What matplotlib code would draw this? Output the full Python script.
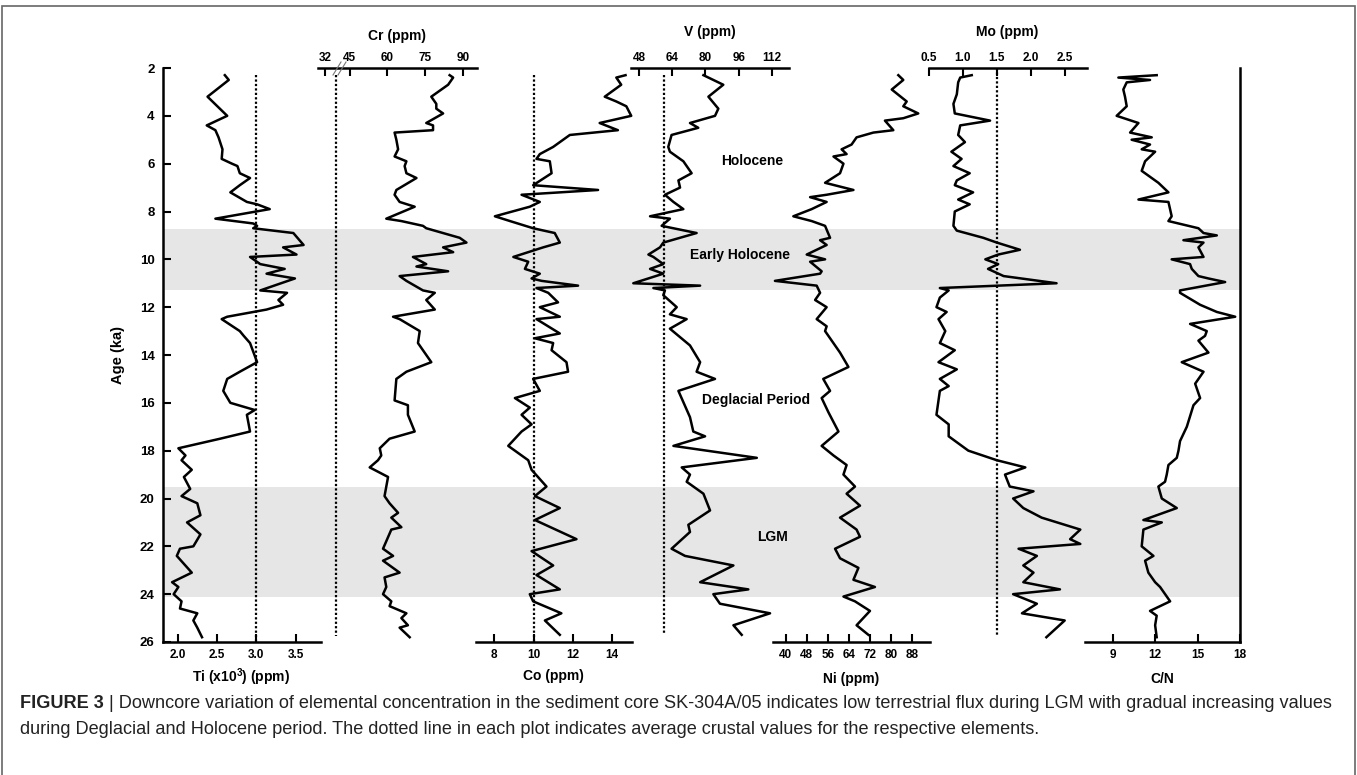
import numpy as np
import matplotlib
matplotlib.use('Agg')
import matplotlib.pyplot as plt
from matplotlib.lines import Line2D
from matplotlib.patches import Rectangle

plt.rcParams['font.family'] = ['Liberation Sans', 'DejaVu Sans']
plt.rcParams['mathtext.fontset'] = 'custom'
plt.rcParams['mathtext.rm'] = 'Liberation Sans'
plt.rcParams['mathtext.bf'] = 'Liberation Sans:bold'

# ---- data (age in ka, concentration) ----
ti_age = [2.3, 2.5, 3.2, 4.0, 4.4, 4.6, 4.9, 5.4, 5.8, 6.0, 6.1, 6.4, 6.6, 6.9, 7.2, 7.6, 7.7, 7.9, 8.3, 8.5,
          8.6, 8.7, 8.9, 9.4, 9.5, 9.8, 9.9, 10.2, 10.4, 10.6, 10.8, 11.3, 11.4, 11.7, 11.9, 12.1, 12.4, 12.5, 13.0, 13.2,
          13.5, 14.3, 14.7, 15.0, 15.5, 16.0, 16.3, 16.5, 17.2, 17.5, 17.9, 18.2, 18.4, 18.8, 19.1, 19.6, 19.9, 20.2, 20.7, 21.0,
          21.5, 22.0, 22.1, 22.4, 23.1, 23.5, 23.7, 24.0, 24.3, 24.6, 24.8, 25.1, 25.4, 25.8]
ti_val = [2.60, 2.65, 2.38, 2.63, 2.37, 2.48, 2.52, 2.57, 2.56, 2.69, 2.76, 2.79, 2.92, 2.79, 2.67, 2.88, 3.01, 3.17, 2.48, 2.96,
          3.01, 2.96, 3.47, 3.60, 3.34, 3.51, 2.92, 3.05, 3.36, 3.13, 3.49, 3.05, 3.39, 3.28, 3.34, 3.13, 2.63, 2.56, 2.79, 2.84,
          2.92, 3.01, 2.79, 2.63, 2.58, 2.67, 2.98, 2.88, 2.92, 2.54, 2.01, 2.10, 2.05, 2.18, 2.08, 2.16, 2.05, 2.25, 2.29, 2.12,
          2.29, 2.20, 2.03, 1.99, 2.18, 1.93, 2.01, 1.95, 2.05, 2.03, 2.25, 2.20, 2.25, 2.31]

cr_age = [2.3, 2.4, 2.7, 3.2, 3.5, 3.7, 3.9, 4.3, 4.4, 4.6, 4.7, 5.0, 5.4, 5.7, 5.9, 6.1, 6.4, 6.6, 7.1, 7.3,
          7.6, 7.8, 8.3, 8.4, 8.6, 8.7, 9.1, 9.3, 9.5, 9.7, 9.9, 10.2, 10.3, 10.5, 10.7, 10.9, 11.3, 11.4, 11.7, 12.1,
          12.4, 12.5, 13.0, 13.5, 14.3, 14.7, 15.0, 15.9, 16.1, 16.5, 17.2, 17.5, 17.9, 18.2, 18.4, 18.7, 19.1, 19.5, 19.9, 20.2,
          20.6, 20.8, 21.2, 21.3, 22.1, 22.4, 22.6, 23.1, 23.3, 23.7, 24.0, 24.3, 24.5, 24.8, 25.0, 25.3, 25.4, 25.8]
cr_val = [84.8, 86.2, 84.2, 77.5, 79.5, 79.5, 82.2, 75.5, 78.2, 78.2, 62.9, 63.6, 64.3, 62.9, 67.6, 66.9, 67.6, 71.6, 63.6, 62.9,
          64.9, 70.9, 59.6, 65.6, 74.2, 75.5, 88.8, 91.5, 82.2, 86.2, 70.2, 75.5, 71.6, 84.2, 64.9, 67.6, 74.2, 78.9, 75.5, 78.9,
          62.3, 64.9, 72.9, 72.2, 77.5, 67.6, 63.6, 62.9, 68.2, 68.2, 70.9, 60.9, 57.0, 57.6, 56.3, 53.0, 60.3, 59.6, 58.9, 60.9,
          64.3, 61.6, 65.6, 61.6, 58.3, 62.3, 58.3, 64.9, 58.9, 59.6, 58.3, 61.6, 60.9, 67.6, 65.6, 68.2, 64.9, 68.9]

co_age = [2.3, 2.4, 2.7, 3.2, 3.4, 3.6, 4.0, 4.3, 4.6, 4.8, 5.3, 5.6, 5.8, 5.9, 6.4, 6.9, 7.1, 7.3, 7.6, 7.8,
          8.2, 8.4, 8.7, 8.9, 9.3, 9.5, 9.9, 10.1, 10.4, 10.6, 10.8, 10.9, 11.1, 11.2, 11.4, 11.8, 12.0, 12.4, 12.5, 13.1,
          13.3, 13.5, 13.8, 14.3, 14.7, 15.0, 15.5, 15.8, 16.2, 16.5, 16.9, 17.2, 17.8, 18.4, 18.8, 19.5, 19.9, 20.4, 20.9, 21.7,
          22.2, 22.8, 23.2, 23.8, 24.0, 24.3, 24.8, 25.1, 25.7]
co_val = [14.69, 14.22, 14.47, 13.63, 14.22, 14.73, 14.98, 13.37, 14.3, 11.85, 11.0, 10.32, 10.15, 10.83, 10.92, 9.98, 13.29, 9.39, 10.32, 9.81,
          8.03, 8.80, 9.98, 11.08, 11.34, 10.49, 8.97, 9.73, 9.56, 10.32, 9.90, 10.41, 12.27, 10.15, 10.75, 11.25, 10.32, 11.34, 10.15, 11.34,
          10.07, 11.0, 10.92, 11.68, 11.76, 9.98, 10.32, 9.05, 9.81, 9.39, 9.90, 9.39, 8.71, 9.73, 9.90, 10.66, 10.07, 11.34, 10.07, 12.19,
          9.90, 11.0, 10.15, 11.34, 9.81, 9.98, 11.42, 10.58, 11.34]

v_age = [2.3, 2.7, 3.2, 3.7, 4.0, 4.3, 4.5, 4.8, 5.3, 5.5, 5.9, 6.4, 6.7, 7.0, 7.3, 7.6, 7.9, 8.2, 8.3, 8.6,
         8.9, 9.3, 9.5, 9.8, 9.9, 10.2, 10.4, 10.6, 11.0, 11.1, 11.2, 11.3, 11.5, 12.0, 12.3, 12.5, 12.9, 13.6, 14.3, 14.7,
         15.0, 15.5, 16.6, 17.2, 17.4, 17.8, 18.3, 18.7, 19.0, 19.3, 19.8, 20.5, 21.1, 21.4, 22.1, 22.4, 22.8, 23.5, 23.8, 24.0,
         24.4, 24.8, 25.3, 25.7]
v_val = [79.0, 88.6, 81.4, 86.2, 84.6, 72.5, 76.5, 63.6, 62.0, 62.8, 69.3, 73.3, 66.9, 67.7, 60.4, 64.5, 69.3, 53.2, 62.8, 58.8,
         75.7, 59.6, 58.0, 52.4, 54.8, 59.6, 53.2, 59.6, 45.1, 77.4, 54.8, 60.4, 59.6, 66.1, 62.8, 70.9, 62.8, 72.5, 77.4, 75.7,
         84.6, 66.9, 72.5, 74.1, 79.8, 64.5, 104.8, 68.5, 72.5, 70.9, 79.0, 82.2, 71.7, 72.5, 63.6, 70.1, 93.5, 77.4, 100.7, 83.8,
         87.0, 111.2, 93.5, 97.5]

ni_age = [2.3, 2.5, 2.9, 3.4, 3.6, 3.9, 4.1, 4.2, 4.6, 4.7, 4.9, 5.2, 5.4, 5.6, 5.7, 6.0, 6.4, 6.8, 7.1, 7.3,
          7.4, 7.6, 7.9, 8.2, 8.4, 8.6, 9.1, 9.2, 9.4, 9.8, 10.0, 10.1, 10.5, 10.6, 10.9, 11.1, 11.4, 11.7, 12.0, 12.5,
          12.8, 13.0, 13.9, 14.5, 15.0, 15.5, 15.8, 16.4, 17.2, 17.8, 18.2, 18.6, 19.0, 19.5, 19.8, 20.3, 20.8, 21.3, 21.6, 22.1,
          22.5, 22.9, 23.4, 23.7, 24.1, 24.3, 24.7, 25.3, 25.7]
ni_val = [82.9, 84.8, 80.4, 86.1, 84.8, 90.5, 84.8, 77.8, 81.0, 73.4, 67.0, 65.1, 61.3, 63.2, 58.2, 62.0, 60.7, 55.0, 65.8, 55.6,
          49.3, 55.6, 49.9, 42.9, 49.9, 55.0, 56.9, 53.1, 55.6, 48.0, 55.0, 49.3, 53.7, 53.1, 35.9, 51.8, 53.1, 51.2, 55.6, 51.8,
          55.6, 55.0, 60.7, 63.9, 54.3, 56.9, 53.7, 56.3, 60.1, 53.7, 58.2, 63.2, 62.0, 66.4, 63.2, 68.3, 60.7, 67.0, 68.3, 58.8,
          60.7, 67.7, 65.8, 74.0, 62.0, 66.4, 72.1, 67.0, 71.5]

mo_age = [2.3, 2.4, 2.6, 3.1, 3.5, 3.9, 4.2, 4.4, 4.8, 5.1, 5.5, 5.8, 6.1, 6.4, 6.7, 6.9, 7.2, 7.5, 7.7, 8.0,
          8.6, 8.8, 9.1, 9.3, 9.6, 9.8, 10.0, 10.2, 10.4, 10.7, 11.0, 11.2, 11.3, 11.6, 12.0, 12.2, 12.5, 13.0, 13.5, 13.8,
          14.3, 14.6, 15.0, 15.3, 15.5, 16.5, 16.9, 17.4, 18.0, 18.4, 18.7, 19.0, 19.5, 19.7, 20.0, 20.4, 20.8, 21.3, 21.7, 21.9,
          22.1, 22.4, 22.8, 23.1, 23.5, 23.8, 24.0, 24.4, 24.8, 25.1, 25.8]
mo_val = [1.13, 0.96, 0.93, 0.91, 0.86, 0.88, 1.40, 0.96, 0.93, 1.03, 0.83, 0.98, 0.86, 1.10, 0.91, 0.88, 1.15, 0.93, 1.10, 0.88,
          0.86, 0.91, 1.30, 1.50, 1.84, 1.52, 1.33, 1.52, 1.37, 1.60, 2.38, 0.66, 0.79, 0.66, 0.61, 0.76, 0.64, 0.74, 0.66, 0.88,
          0.64, 0.91, 0.66, 0.79, 0.66, 0.61, 0.79, 0.79, 1.08, 1.50, 1.92, 1.62, 1.69, 2.04, 1.74, 1.89, 2.16, 2.73, 2.58, 2.73,
          1.82, 2.09, 1.89, 2.04, 1.89, 2.43, 1.74, 2.09, 1.87, 2.50, 2.23]

cn_age = [2.3, 2.4, 2.5, 2.6, 2.9, 3.2, 3.6, 4.0, 4.3, 4.7, 4.9, 5.0, 5.2, 5.4, 5.5, 5.9, 6.3, 6.8, 7.2, 7.5,
          7.6, 8.2, 8.4, 8.7, 8.9, 9.0, 9.2, 9.3, 9.5, 9.9, 10.0, 10.2, 10.4, 10.7, 10.8, 10.95, 11.3, 11.4, 11.9, 12.2,
          12.4, 12.7, 13.0, 13.2, 13.4, 13.9, 14.3, 14.7, 15.2, 15.8, 16.1, 17.0, 17.6, 18.0, 18.3, 18.6, 19.0, 19.3, 19.5, 20.0,
          20.4, 20.9, 21.0, 21.3, 22.0, 22.4, 22.6, 23.1, 23.5, 23.7, 24.3, 24.7, 24.9, 25.3, 25.8]
cn_val = [12.11, 9.40, 11.64, 9.99, 9.75, 9.87, 9.99, 9.28, 10.82, 10.23, 11.76, 10.34, 11.64, 11.05, 12.0, 11.29, 11.05, 12.23, 12.94, 10.82,
          12.94, 13.17, 12.94, 15.06, 15.42, 16.36, 14.0, 15.42, 15.06, 15.42, 13.17, 14.47, 14.59, 15.06, 15.77, 16.95, 13.76, 13.76, 15.18, 16.36,
          17.66, 14.47, 15.65, 15.53, 15.06, 15.77, 13.88, 15.42, 14.83, 15.18, 14.71, 14.24, 13.76, 13.65, 13.53, 12.94, 12.82, 12.70, 12.23, 12.47,
          13.53, 11.17, 12.47, 11.17, 11.05, 11.88, 11.29, 11.52, 12.0, 12.35, 13.06, 11.64, 12.11, 12.0, 12.11]

# average crustal values (dotted lines)
ti_crust, cr_crust, co_crust, v_crust, mo_crust = 3.0, 39.6, 10.0, 60.0, 1.5

# shaded periods (ka) and period names
bands = [(8.75, 11.3), (19.5, 24.1)]
periods = ['Holocene', 'Early Holocene', 'Deglacial Period', 'LGM']
period_age = [5.9, 9.8, 15.9, 21.6]

age_ticks = list(range(2, 27, 2))

# ---- layout (pixels) ----
W, H = 1357, 775
X0, X1, Y0, Y1 = 163, 1240, 68, 642
fig = plt.figure(figsize=(W / 100, H / 100), dpi=100)
pos = [X0 / W, 1 - Y1 / H, (X1 - X0) / W, (Y1 - Y0) / H]

def fx(px):
    return px / W

def fy(py):
    return 1 - py / H

LW = 1.8
TICKFS = 8.5
LABFS = 10
bold = dict(fontweight='bold')

def setup(ax, va, pa, vb, pb, side, span, ticks, labels=None):
    # map values to pixel positions given two (value, pixel) pairs
    k = (pb - pa) / (vb - va)
    ax.set_xlim(va + (X0 - pa) / k, va + (X1 - pa) / k)
    ax.set_ylim(26, 2)
    for s in ax.spines.values():
        s.set_visible(False)
    sp = ax.spines[side]
    sp.set_visible(True)
    sp.set_linewidth(LW)
    sp.set_bounds(va + (span[0] - pa) / k, va + (span[1] - pa) / k)
    ax.xaxis.set_ticks_position(side)
    ax.set_xticks(ticks)
    ax.set_xticklabels(labels if labels else [str(t) for t in ticks], fontsize=TICKFS, **bold)
    ax.tick_params(axis='x', direction='in', length=6, width=1.5,
                   pad=5 if side == 'bottom' else 3)
    return ax

def overlay():
    ax = fig.add_axes(pos)
    ax.patch.set_visible(False)
    ax.tick_params(axis='y', left=False, right=False, labelleft=False, labelright=False)
    return ax

# main axes: Ti with age axis
ax0 = fig.add_axes(pos)
setup(ax0, 2.0, 177.6, 3.5, 295.7, 'bottom', (X0, 320.5), [2.0, 2.5, 3.0, 3.5],
      ['2.0', '2.5', '3.0', '3.5'])
ax0.spines['left'].set_visible(True)
ax0.spines['left'].set_linewidth(LW)
ax0.set_yticks(age_ticks)
ax0.set_yticklabels([str(t) for t in age_ticks], fontsize=9.5, **bold)
ax0.tick_params(axis='y', direction='in', length=6, width=1.5, pad=6)
for b0, b1 in bands:
    ax0.axhspan(b0, b1, color='#e6e6e6', lw=0, zorder=0)
ax0.plot(ti_val, ti_age, color='k', lw=LW, solid_joinstyle='round', zorder=3)
ax0.vlines(ti_crust, 2.3, 26, colors='k', linestyles=(0, (1, 1)), lw=1.6, zorder=2)

# Cr (top, broken axis at 32/45)
axcr = overlay()
setup(axcr, 45, 349.6, 90, 462.7, 'top', (318, 476.7), [35.4, 45, 60, 75, 90],
      ['32', '45', '60', '75', '90'])
axcr.plot(cr_val, cr_age, color='k', lw=LW, solid_joinstyle='round')
axcr.vlines(cr_crust, 2.3, 25.75, colors='k', linestyles=(0, (1, 1)), lw=1.6)

# Co (bottom)
axco = overlay()
setup(axco, 8, 494.3, 14, 612.0, 'bottom', (476, 632), [8, 10, 12, 14])
axco.plot(co_val, co_age, color='k', lw=LW, solid_joinstyle='round')
axco.vlines(co_crust, 2.3, 26, colors='k', linestyles=(0, (1, 1)), lw=1.6)

# V (top)
axv = overlay()
setup(axv, 48, 639.3, 112, 771.7, 'top', (631, 789), [48, 64, 80, 96, 112])
axv.plot(v_val, v_age, color='k', lw=LW, solid_joinstyle='round')
axv.vlines(v_crust, 2.3, 25.7, colors='k', linestyles=(0, (1, 1)), lw=1.6)

# Ni (bottom)
axni = overlay()
setup(axni, 40, 785.7, 88, 911.7, 'bottom', (773, 930), [40, 48, 56, 64, 72, 80, 88])
axni.plot(ni_val, ni_age, color='k', lw=LW, solid_joinstyle='round')

# Mo (top)
axmo = overlay()
setup(axmo, 0.5, 929, 2.5, 1064.7, 'top', (929, 1087), [0.5, 1.0, 1.5, 2.0, 2.5],
      ['0.5', '1.0', '1.5', '2.0', '2.5'])
axmo.plot(mo_val, mo_age, color='k', lw=LW, solid_joinstyle='round')
axmo.vlines(mo_crust, 2.0, 25.7, colors='k', linestyles=(0, (1, 1)), lw=1.6)

# C/N (bottom, with right frame line)
axcn = overlay()
setup(axcn, 9, 1112.7, 18, 1240, 'bottom', (1085, 1240), [9, 12, 15, 18])
axcn.spines['right'].set_visible(True)
axcn.spines['right'].set_linewidth(LW)
axcn.plot(cn_val, cn_age, color='k', lw=LW, solid_joinstyle='round')

# period names
name_x = [752, 740, 756, 773]
for name, a, px in zip(periods, period_age, name_x):
    ax0.text((px - X0) / (X1 - X0), a, name, transform=ax0.get_yaxis_transform(),
             ha='center', va='center', fontsize=LABFS, **bold)

# axis titles
fig.text(fx(397), fy(36), 'Cr (ppm)', ha='center', va='center', fontsize=LABFS, **bold)
fig.text(fx(710), fy(32), 'V (ppm)', ha='center', va='center', fontsize=LABFS, **bold)
fig.text(fx(1007), fy(32), 'Mo (ppm)', ha='center', va='center', fontsize=LABFS, **bold)
fig.text(fx(241), fy(677), r'Ti (x10$^{\mathbf{3}}$) (ppm)', ha='center', va='center', fontsize=LABFS, **bold)
fig.text(fx(553), fy(676), 'Co (ppm)', ha='center', va='center', fontsize=LABFS, **bold)
fig.text(fx(851), fy(679), 'Ni (ppm)', ha='center', va='center', fontsize=LABFS, **bold)
fig.text(fx(1162), fy(679), 'C/N', ha='center', va='center', fontsize=LABFS, **bold)
fig.text(fx(118), fy(355), 'Age (ka)', ha='center', va='center', rotation=90, fontsize=LABFS + 0.5, **bold)

# axis break marks on Cr axis
for dx in (0, 5):
    fig.add_artist(Line2D([fx(333 + dx), fx(341 + dx)], [fy(75), fy(62)], color='#777', lw=0.8))

# outer frame
fig.add_artist(Rectangle((fx(2), fy(790)), fx(1355) - fx(2), fy(6) - fy(790), fill=False,
                         ec='#666', lw=1.2, transform=fig.transFigure))

# caption, sized so the first line spans the frame width
cap_font = ['Liberation Sans', 'DejaVu Sans']
line1 = ('| Downcore variation of elemental concentration in the sediment core SK-304A/05 indicates '
         'low terrestrial flux during LGM with gradual increasing values')
line2 = ('during Deglacial and Holocene period. The dotted line in each plot indicates average crustal '
         'values for the respective elements.')
fs = 12.5
t_bold = fig.text(fx(20), fy(704), 'FIGURE 3 ', ha='left', va='center', fontsize=fs,
                  fontweight='bold', family=cap_font, color='#222')
t_l1 = fig.text(0, fy(704), line1, ha='left', va='center', fontsize=fs, family=cap_font, color='#222')
t_l2 = fig.text(fx(20), fy(730), line2, ha='left', va='center', fontsize=fs, family=cap_font, color='#222')
r = fig.canvas.get_renderer()
total = t_bold.get_window_extent(r).width + t_l1.get_window_extent(r).width
fs = fs * (1340 - 20) / total
for t in (t_bold, t_l1, t_l2):
    t.set_fontsize(fs)
bb = t_bold.get_window_extent(r)
t_l1.set_x(bb.x1 / W)

fig.savefig('out.png', dpi=100)
